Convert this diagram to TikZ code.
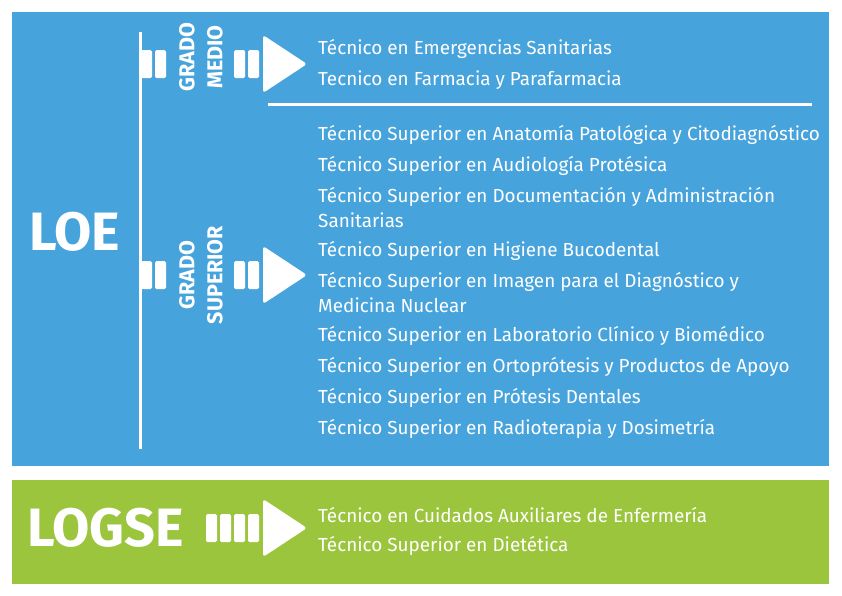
\documentclass[tikz,border=0pt]{standalone}
\usepackage{fontspec}
\setmainfont{Fira Sans}
\definecolor{loeblue}{HTML}{47A3DC}
\definecolor{logsegreen}{HTML}{9BC53D}
\tikzset{
  blk/.style = {fill = white, rounded corners = 1.5pt},
  item/.style = {anchor = west, text = white, font = \fontsize{18.9}{20}\selectfont, inner sep = 0pt},
  big/.style = {text = white, font = \fontsize{54}{58}\selectfont\bfseries, inner sep = 0pt},
  grado/.style = {text = white, rotate = 90, font = \fontsize{21.5}{28}\selectfont\bfseries, align = center, inner sep = 0pt}
}
% n blocks ending at x = #2, centred at y = #3
\newcommand\blocks[3]{%
  \foreach \k in {1,...,#1}
    \fill[blk] ({#2-\k*14+2}, #3-14) rectangle ({#2-\k*14+13}, #3+14);
}
% triangle head starting at x = #1, centred at y = #2
\newcommand\head[2]{%
  \fill[white, rounded corners = 3pt] (#1, #2-29) -- (#1+44, #2) -- (#1, #2+29) -- cycle;
}

\begin{document}
\begin{tikzpicture}[x = 1pt, y = -1pt]

    \useasboundingbox (0,0) rectangle (842,595);

    \fill[loeblue] (12,12) rectangle (829,466);
    \fill[logsegreen] (12,480) rectangle (829,584);

    \node[big, anchor = west] (loe) at (29,232) {LOE};
    \node[big, anchor = west] (logse) at (27,528) {LOGSE};

    \draw[white, line width = 3pt] (140,32) -- (140,449);
    \draw[white, line width = 3pt] (268,104) -- (812,104);

    \blocks{2}{167}{64}
    \blocks{2}{260}{64}
    \head{263}{64}
    \blocks{2}{167}{275}
    \blocks{2}{260}{275}
    \head{263}{275}
    \blocks{4}{260}{528}
    \head{263}{528}

    \node[grado] (medio) at (201,57) {GRADO\\MEDIO};
    \node[grado] (superior) at (201,275) {GRADO\\SUPERIOR};

    \node[item] (m1) at (318,49) {Técnico en Emergencias Sanitarias};
    \node[item] (m2) at (318,80) {Tecnico en Farmacia y Parafarmacia};

    \node[item] (s1) at (318,135) {Técnico Superior en Anatomía Patológica y Citodiagnóstico};
    \node[item] (s2) at (318,166) {Técnico Superior en Audiología Protésica};
    \node[item] (s3) at (318,197) {Técnico Superior en Documentación y Administración};
    \node[item] (s3b) at (318,220) {Sanitarias};
    \node[item] (s4) at (318,251) {Técnico Superior en Higiene Bucodental};
    \node[item] (s5) at (318,282) {Técnico Superior en Imagen para el Diagnóstico y};
    \node[item] (s5b) at (318,305) {Medicina Nuclear};
    \node[item] (s6) at (318,336) {Técnico Superior en Laboratorio Clínico y Biomédico};
    \node[item] (s7) at (318,367) {Técnico Superior en Ortoprótesis y Productos de Apoyo};
    \node[item] (s8) at (318,398) {Técnico Superior en Prótesis Dentales};
    \node[item] (s9) at (318,429) {Técnico Superior en Radioterapia y Dosimetría};

    \node[item] (l1) at (318,515) {Técnico en Cuidados Auxiliares de Enfermería};
    \node[item] (l2) at (318,546) {Técnico Superior en Dietética};

\end{tikzpicture}
\end{document}
